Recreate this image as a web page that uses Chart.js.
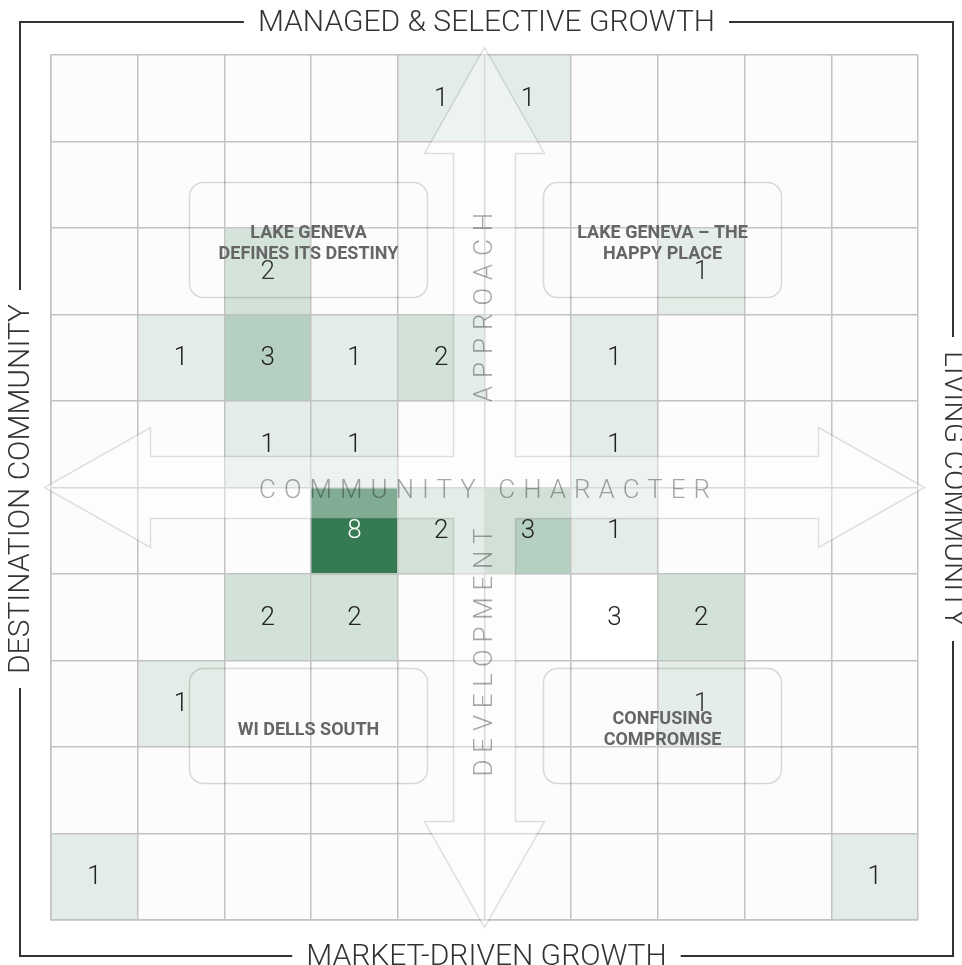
<!DOCTYPE html>
<html>
<head>
<meta charset="utf-8">
<script src="https://cdn.jsdelivr.net/npm/chart.js@4"></script>
<style>
  html, body { margin: 0; padding: 0; background: #fff; }
  #wrap { width: 962px; height: 965px; position: relative; }
</style>
</head>
<body>
<div id="wrap"><canvas id="chart-grid"></canvas></div>
<script>
// columns, left (destination) to right (living)
var columnLabels = ['1', '2', '3', '4', '5', '6', '7', '8', '9', '10'];

// counts per row, top (managed) to bottom (market-driven)
var row1 = [0, 0, 0, 0, 1, 1, 0, 0, 0, 0];
var row2 = [0, 0, 0, 0, 0, 0, 0, 0, 0, 0];
var row3 = [0, 0, 2, 0, 0, 0, 0, 1, 0, 0];
var row4 = [0, 1, 3, 1, 2, 0, 1, 0, 0, 0];
var row5 = [0, 0, 1, 1, 0, 0, 1, 0, 0, 0];
var row6 = [0, 0, 0, 8, 2, 3, 1, 0, 0, 0];
var row7 = [0, 0, 2, 2, 0, 0, 3, 2, 0, 0];
var row8 = [0, 1, 0, 0, 0, 0, 0, 1, 0, 0];
var row9 = [0, 0, 0, 0, 0, 0, 0, 0, 0, 0];
var row10 = [1, 0, 0, 0, 0, 0, 0, 0, 0, 1];
var rowsData = [row1, row2, row3, row4, row5, row6, row7, row8, row9, row10];

// cells that carry a count but were left unshaded in the original: [row, col]
var unshadedCells = [[6, 6]];

var axisTitles = ['MANAGED & SELECTIVE GROWTH', 'MARKET-DRIVEN GROWTH', 'DESTINATION COMMUNITY', 'LIVING COMMUNITY'];
var arrowTitles = ['COMMUNITY CHARACTER', 'APPROACH', 'DEVELOPMENT'];
var quadrantLabels = [
    ['LAKE GENEVA', 'DEFINES ITS DESTINY'],
    ['LAKE GENEVA \u2013 THE', 'HAPPY PLACE'],
    ['WI DELLS SOUTH'],
    ['CONFUSING', 'COMPROMISE']
];

function cellColor(value, r, c) {
    for (var k = 0; k < unshadedCells.length; ++k) {
        if (unshadedCells[k][0] === r && unshadedCells[k][1] === c) return '#ffffff';
    }
    if (value >= 8) return '#357a52';
    if (value >= 3) return '#b5cfc0';
    if (value >= 2) return '#d2e2d8';
    if (value >= 1) return '#e3ece6';
    return '#fcfcfc';
}

var datasets = [];
for (var r = 0; r < rowsData.length; ++r) {
    var row = rowsData[r];
    datasets.push({
        label: 'row ' + (r + 1),
        data: row.map(function () { return [9 - r, 10 - r]; }),
        counts: row,
        backgroundColor: row.map(function (v, c) { return cellColor(v, r, c); }),
        borderWidth: 0,
        grouped: false,
        barPercentage: 1,
        categoryPercentage: 1
    });
}

function arrowPath(ctx, cx, cy) {
    var L = 440, H = 106, HW = 60, hw = 31;
    var pts = [
        [0, -L], [HW, -L + H], [hw, -L + H], [hw, -hw], [L - H, -hw], [L - H, -HW],
        [L, 0], [L - H, HW], [L - H, hw], [hw, hw], [hw, L - H], [HW, L - H],
        [0, L], [-HW, L - H], [-hw, L - H], [-hw, hw], [-(L - H), hw], [-(L - H), HW],
        [-L, 0], [-(L - H), -HW], [-(L - H), -hw], [-hw, -hw], [-hw, -L + H], [-HW, -L + H]
    ];
    ctx.beginPath();
    pts.forEach(function (p, i) {
        if (i === 0) ctx.moveTo(cx + p[0], cy + p[1]);
        else ctx.lineTo(cx + p[0], cy + p[1]);
    });
    ctx.closePath();
}

function roundRect(ctx, x, y, w, h, rad) {
    ctx.beginPath();
    ctx.moveTo(x + rad, y);
    ctx.arcTo(x + w, y, x + w, y + h, rad);
    ctx.arcTo(x + w, y + h, x, y + h, rad);
    ctx.arcTo(x, y + h, x, y, rad);
    ctx.arcTo(x, y, x + w, y, rad);
    ctx.closePath();
}

function spacedText(ctx, text, x, y, spacing) {
    ctx.letterSpacing = spacing + 'px';
    ctx.fillText(text, x + spacing / 2, y);
    ctx.letterSpacing = '0px';
}

var overlayPlugin = {
    id: 'overlay',
    afterDraw: function (chart) {
        var ctx = chart.ctx;
        var area = chart.chartArea;
        var cx = (area.left + area.right) / 2;
        var cy = chart.scales.y.getPixelForValue(5);

        // big four way arrow
        ctx.save();
        arrowPath(ctx, cx, cy);
        ctx.fillStyle = 'rgba(255,255,255,0.38)';
        ctx.fill();
        ctx.strokeStyle = 'rgba(0,0,0,0.12)';
        ctx.lineWidth = 1.5;
        ctx.stroke();

        ctx.fillStyle = 'rgba(0,0,0,0.35)';
        ctx.font = '300 26px Roboto';
        ctx.textAlign = 'center';
        ctx.textBaseline = 'middle';
        spacedText(ctx, arrowTitles[0], cx, cy + 4, 8);

        ctx.save();
        ctx.translate(cx + 1, cy);
        ctx.rotate(-Math.PI / 2);
        spacedText(ctx, arrowTitles[1], 180, 0, 8);
        spacedText(ctx, arrowTitles[2], -165, 0, 6.8);
        ctx.restore();
        ctx.restore();

        // counts in the cells
        ctx.save();
        ctx.font = '300 26px Roboto';
        ctx.textAlign = 'center';
        ctx.textBaseline = 'middle';
        chart.data.datasets.forEach(function (ds, di) {
            var meta = chart.getDatasetMeta(di);
            meta.data.forEach(function (bar, i) {
                var v = ds.counts[i];
                if (!v) return;
                ctx.fillStyle = v >= 8 ? '#ffffff' : '#222222';
                ctx.fillText(String(v), bar.x, (bar.y + bar.base) / 2 + 1);
            });
        });
        ctx.restore();

        // quadrant boxes: [left, top] offsets from the grid centre
        var boxes = [[-295, -305], [59, -305], [-295, 181], [59, 181]];
        ctx.save();
        boxes.forEach(function (b, i) {
            var x = cx + b[0], y = cy + b[1], w = 238, h = 115;
            roundRect(ctx, x, y, w, h, 14);
            ctx.fillStyle = 'rgba(255,255,255,0.08)';
            ctx.fill();
            ctx.strokeStyle = 'rgba(0,0,0,0.14)';
            ctx.lineWidth = 1.5;
            ctx.stroke();
            var lines = quadrantLabels[i];
            ctx.fillStyle = '#666666';
            ctx.font = 'bold 18px Roboto';
            ctx.textAlign = 'center';
            ctx.textBaseline = 'middle';
            var my = y + h / 2 + 4;
            lines.forEach(function (t, k) {
                ctx.fillText(t, x + w / 2, my + (k - (lines.length - 1) / 2) * 21);
            });
        });
        ctx.restore();

        // outer frame with titles sitting in the lines
        var fl = 20, ft = 22, fr = 953, fb = 956;
        var fcx = (fl + fr) / 2, fcy = (ft + fb) / 2;
        ctx.save();
        ctx.font = '300 30px Roboto';
        ctx.textAlign = 'center';
        ctx.textBaseline = 'middle';
        var gap = 14;
        var wTop = ctx.measureText(axisTitles[0]).width / 2 + gap;
        var wBottom = ctx.measureText(axisTitles[1]).width / 2 + gap;
        var wLeft = ctx.measureText(axisTitles[2]).width / 2 + gap;
        var wRight = ctx.measureText(axisTitles[3]).width / 2 + gap;
        ctx.strokeStyle = '#333333';
        ctx.lineWidth = 2;
        ctx.beginPath();
        ctx.moveTo(fcx - wTop, ft); ctx.lineTo(fl, ft); ctx.lineTo(fl, fcy - wLeft);
        ctx.moveTo(fl, fcy + wLeft); ctx.lineTo(fl, fb); ctx.lineTo(fcx - wBottom, fb);
        ctx.moveTo(fcx + wBottom, fb); ctx.lineTo(fr, fb); ctx.lineTo(fr, fcy + wRight);
        ctx.moveTo(fr, fcy - wRight); ctx.lineTo(fr, ft); ctx.lineTo(fcx + wTop, ft);
        ctx.stroke();

        ctx.fillStyle = '#333333';
        ctx.fillText(axisTitles[0], fcx, ft + 1);
        ctx.fillText(axisTitles[1], fcx, fb + 1);
        ctx.save();
        ctx.translate(fl, fcy);
        ctx.rotate(-Math.PI / 2);
        ctx.fillText(axisTitles[2], 0, 1);
        ctx.restore();
        ctx.save();
        ctx.translate(fr, fcy);
        ctx.rotate(Math.PI / 2);
        ctx.fillText(axisTitles[3], 0, 1);
        ctx.restore();
        ctx.restore();
    }
};

var ctx = document.getElementById('chart-grid');
new Chart(ctx, {
    type: 'bar',
    data: {
        labels: columnLabels,
        datasets: datasets
    },
    options: {
        responsive: true,
        maintainAspectRatio: false,
        animation: false,
        events: [],
        layout: {
            padding: { left: 51, top: 55, right: 44, bottom: 45 }
        },
        plugins: {
            legend: { display: false },
            tooltip: { enabled: false }
        },
        scales: {
            x: {
                type: 'category',
                offset: true,
                grid: { offset: true, color: '#c2c2c2', lineWidth: 1.5, drawTicks: false, z: 1 },
                border: { display: true, color: '#c2c2c2', width: 1.5, z: 1 },
                ticks: { display: false }
            },
            y: {
                type: 'linear',
                min: 0,
                max: 10,
                grid: { color: '#c2c2c2', lineWidth: 1.5, drawTicks: false, z: 1 },
                border: { display: true, color: '#c2c2c2', width: 1.5, z: 1 },
                ticks: { display: false, stepSize: 1 }
            }
        }
    },
    plugins: [overlayPlugin]
});
</script>
</body>
</html>
